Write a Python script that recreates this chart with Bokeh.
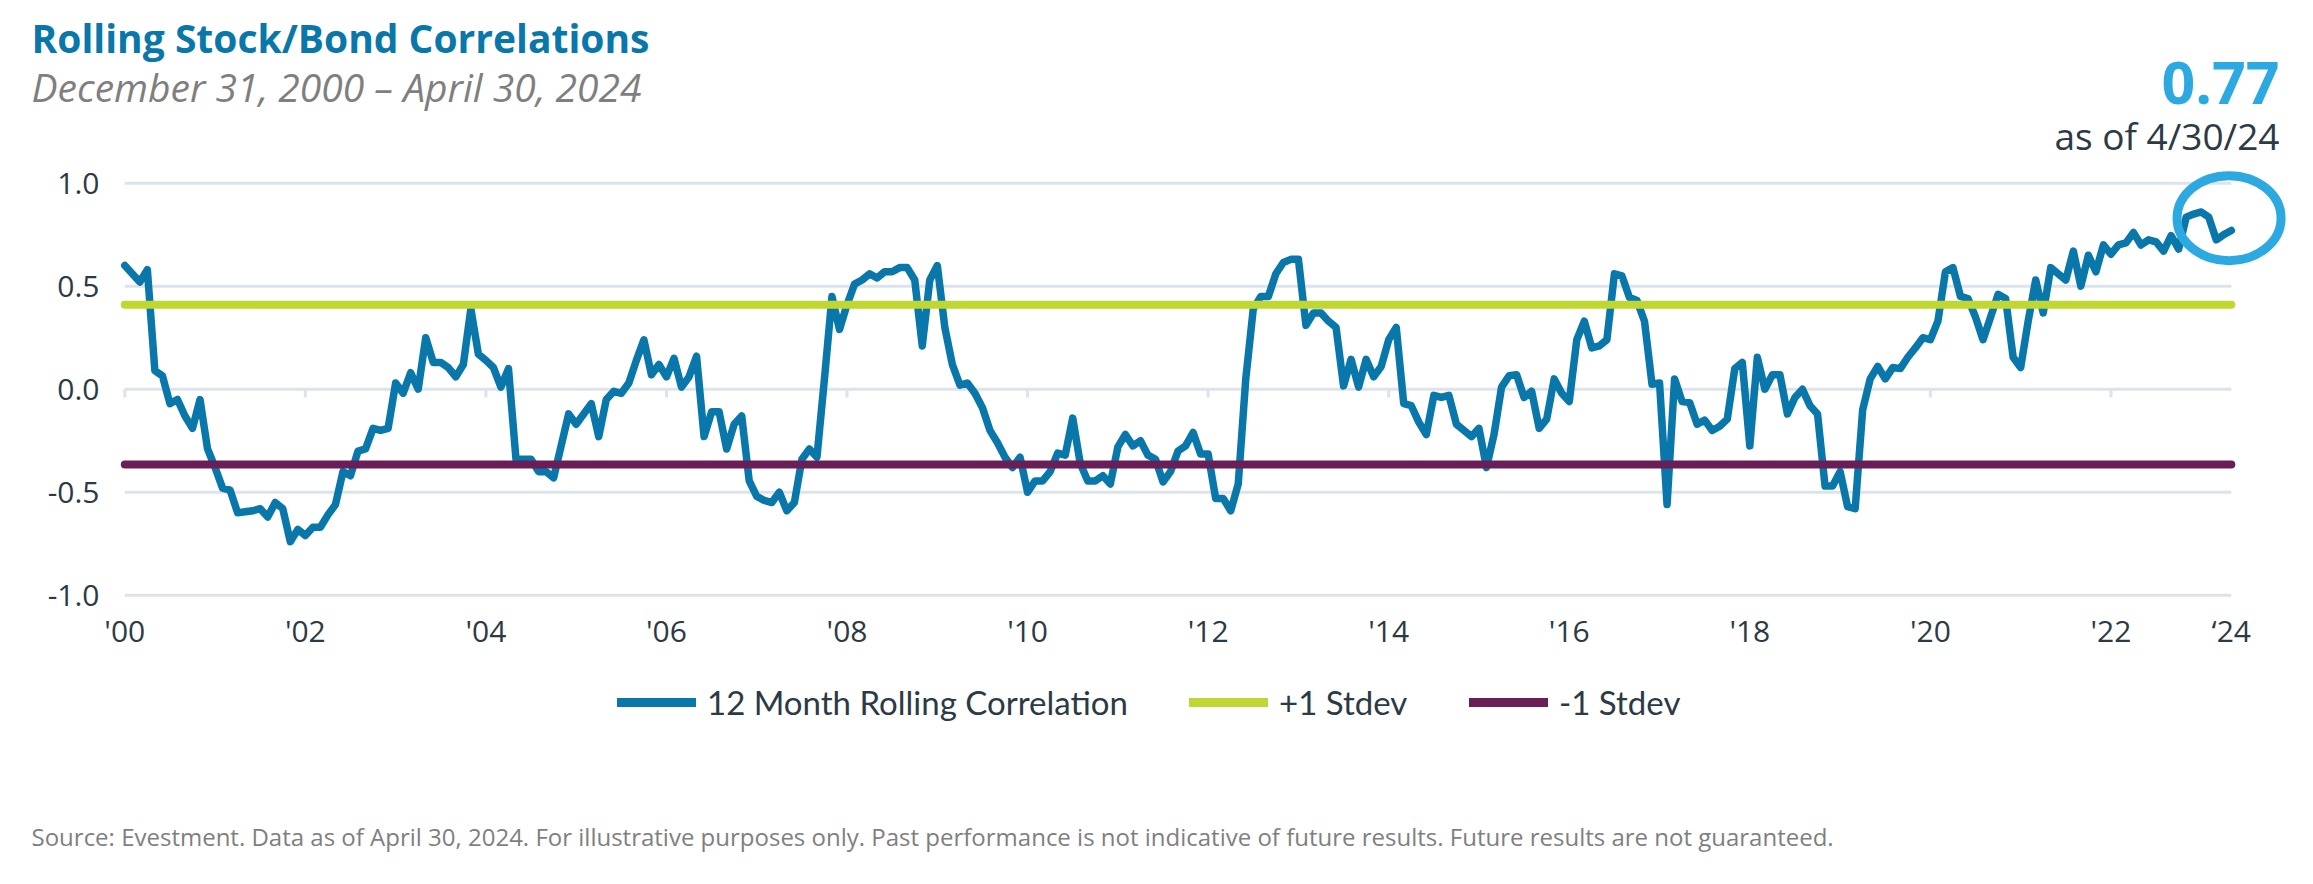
from bokeh.plotting import figure
from bokeh.layouts import column
from bokeh.models import Range1d, Legend, LegendItem, FixedTicker, NumeralTickFormatter
from bokeh.core.properties import value
from bokeh.embed import file_html
from bokeh.resources import INLINE

# ---------------- data ----------------
# month index: 0 = Dec 31, 2000 ... 280 = Apr 30, 2024
months = list(range(0, 281))
correlation = [
    0.60, 0.56, 0.52, 0.58, 0.09, 0.065, -0.07, -0.05, -0.13, -0.19,          # 0-9
    -0.05, -0.29, -0.38, -0.48, -0.49, -0.60, -0.595, -0.59, -0.58, -0.62,    # 10-19
    -0.55, -0.58, -0.74, -0.68, -0.71, -0.67, -0.67, -0.61, -0.56, -0.40,     # 20-29
    -0.42, -0.30, -0.29, -0.19, -0.20, -0.19, 0.03, -0.02, 0.08, 0.0,         # 30-39
    0.25, 0.13, 0.13, 0.105, 0.06, 0.12, 0.39, 0.17, 0.14, 0.105,             # 40-49
    0.01, 0.10, -0.34, -0.34, -0.34, -0.40, -0.40, -0.43, -0.275, -0.12,      # 50-59
    -0.17, -0.12, -0.07, -0.23, -0.05, -0.01, -0.02, 0.03, 0.14, 0.24,        # 60-69
    0.07, 0.12, 0.06, 0.15, 0.01, 0.06, 0.16, -0.23, -0.11, -0.11,            # 70-79
    -0.29, -0.17, -0.13, -0.445, -0.52, -0.54, -0.55, -0.50, -0.59, -0.55,    # 80-89
    -0.34, -0.29, -0.33, 0.05, 0.45, 0.29, 0.41, 0.51, 0.53, 0.56,            # 90-99
    0.54, 0.57, 0.57, 0.59, 0.59, 0.53, 0.21, 0.53, 0.60, 0.30,               # 100-109
    0.12, 0.02, 0.03, -0.02, -0.09, -0.20, -0.26, -0.33, -0.38, -0.33,        # 110-119
    -0.50, -0.445, -0.445, -0.40, -0.31, -0.32, -0.14, -0.36, -0.445, -0.445, # 120-129
    -0.42, -0.46, -0.28, -0.22, -0.275, -0.25, -0.32, -0.34, -0.45, -0.40,    # 130-139
    -0.30, -0.275, -0.21, -0.315, -0.315, -0.53, -0.53, -0.59, -0.46, 0.05,   # 140-149
    0.39, 0.45, 0.45, 0.56, 0.615, 0.63, 0.63, 0.31, 0.37, 0.37,              # 150-159
    0.33, 0.30, 0.016, 0.145, 0.01, 0.145, 0.06, 0.11, 0.24, 0.30,            # 160-169
    -0.07, -0.08, -0.16, -0.22, -0.03, -0.04, -0.03, -0.17, -0.20, -0.23,     # 170-179
    -0.19, -0.38, -0.22, 0.01, 0.065, 0.07, -0.04, -0.01, -0.19, -0.145,      # 180-189
    0.05, -0.02, -0.06, 0.24, 0.33, 0.20, 0.21, 0.24, 0.56, 0.55,             # 190-199
    0.445, 0.43, 0.33, 0.024, 0.03, -0.56, 0.05, -0.06, -0.065, -0.17,        # 200-209
    -0.15, -0.20, -0.18, -0.145, 0.10, 0.13, -0.275, 0.155, 0.0, 0.07,        # 210-219
    0.07, -0.12, -0.04, 0.0, -0.08, -0.12, -0.47, -0.47, -0.40, -0.57,        # 220-229
    -0.58, -0.10, 0.05, 0.11, 0.05, 0.105, 0.10, 0.155, 0.20, 0.25,           # 230-239
    0.24, 0.33, 0.57, 0.59, 0.45, 0.44, 0.35, 0.24, 0.35, 0.46,               # 240-249
    0.44, 0.155, 0.105, 0.33, 0.53, 0.37, 0.59, 0.56, 0.53, 0.67,             # 250-259
    0.50, 0.65, 0.57, 0.70, 0.655, 0.70, 0.71, 0.76, 0.70, 0.725,             # 260-269
    0.715, 0.67, 0.745, 0.68, 0.835, 0.85, 0.86, 0.835, 0.725, 0.75,          # 270-279
    0.77,                                                                      # 280
]
plus_stdev = 0.41
minus_stdev = -0.365
grid_values = [-1.0, -0.5, 0.0, 0.5, 1.0]
tick_months = [0, 24, 48, 72, 96, 120, 144, 168, 192, 216, 240, 264, 280]
tick_labels = ["'00", "'02", "'04", "'06", "'08", "'10", "'12", "'14", "'16", "'18",
               "'20", "'22", "\u201824"]
series_names = ["12 Month Rolling Correlation", "+1 Stdev", "-1 Stdev"]
title_text = "Rolling Stock/Bond Correlations"
subtitle_text = "December 31, 2000 \u2013 April 30, 2024"
latest_value = "0.77"
latest_date = "as of 4/30/24"
source_text = ("Source: Evestment. Data as of April 30, 2024. For illustrative purposes only. "
               "Past performance is not indicative of future results. Future results are not guaranteed.")

# ---------------- styles ----------------
BLUE = "#0A77AB"
LIGHT_BLUE = "#2DA9E1"
GREEN = "#BFD730"
PURPLE = "#6A1E57"
GRID = "#DDE3EA"
TEXT = "#2B3A45"
GREY = "#7F7F7F"
FONT = "Open Sans"
LEGEND_FONT = "Lato"
W = 2296
X0 = 2          # header/footer x coordinate at the canvas' left edge
NAN = float("nan")


def no_align(f):
    try:
        f.frame_align = False
    except Exception:
        pass


def blank(height, y0, y1):
    f = figure(width=W, height=height, output_backend="svg", toolbar_location=None,
               x_range=Range1d(X0, X0 + W), y_range=Range1d(y1, y0),
               x_axis_location=None, y_axis_location=None,
               min_border=0, min_border_left=0, min_border_right=0,
               min_border_top=0, min_border_bottom=0)
    f.outline_line_color = None
    f.xgrid.visible = False
    f.ygrid.visible = False
    f.background_fill_color = "white"
    f.border_fill_color = "white"
    no_align(f)
    return f


# ---------------- header (page y 8..168) ----------------
header = blank(160, 8, 168)
header.text(x=[33], y=[45], text=[title_text], text_font=value(FONT), text_font_size="39px",
            text_font_style="bold", text_color=BLUE, text_baseline="alphabetic", text_align="left")
header.text(x=[33], y=[93.5], text=[subtitle_text], text_font=value(FONT), text_font_size="39px",
            text_font_style="italic", text_color=GREY, text_baseline="alphabetic", text_align="left")
header.text(x=[2281], y=[90], text=[latest_value], text_font=value(FONT), text_font_size="59px",
            text_font_style="bold", text_color=LIGHT_BLUE, text_baseline="alphabetic", text_align="right")
header.text(x=[2281], y=[143], text=[latest_date], text_font=value(FONT), text_font_size="37px",
            text_color=TEXT, text_baseline="alphabetic", text_align="right")

# ---------------- main chart (page y 168..680, frame 168..611) ----------------
p = figure(width=W, height=512, output_backend="svg", toolbar_location=None,
           x_range=Range1d(-1.5, 288), y_range=Range1d(-1.0399, 1.1098),
           min_border_left=113, min_border_right=5, min_border_top=0, min_border_bottom=69)
p.outline_line_color = None
p.xgrid.visible = False
p.ygrid.visible = False
p.background_fill_color = "white"
p.border_fill_color = "white"
no_align(p)

p.yaxis.ticker = FixedTicker(ticks=grid_values)
p.yaxis.formatter = NumeralTickFormatter(format="0.0")
p.xaxis.ticker = FixedTicker(ticks=tick_months)
p.xaxis.major_label_overrides = {m: l for m, l in zip(tick_months, tick_labels)}
for ax in (p.xaxis[0], p.yaxis[0]):
    ax.axis_line_color = None
    ax.major_tick_line_color = None
    ax.minor_tick_line_color = None
    ax.major_tick_out = 0
    ax.major_tick_in = 0
    ax.minor_tick_out = 0
    ax.major_label_text_font = FONT
    ax.major_label_text_font_size = "30px"
    ax.major_label_text_color = TEXT
p.yaxis.major_label_standoff = 14
p.xaxis.major_label_standoff = 6

first_m, last_m = months[0], months[-1]
p.segment(x0=[first_m] * len(grid_values), x1=[last_m] * len(grid_values),
          y0=grid_values, y1=grid_values, line_color=GRID, line_width=3)
tm = tick_months[:-1]
p.segment(x0=tm, x1=tm, y0=[0.0] * len(tm), y1=[-0.04] * len(tm), line_color=GRID, line_width=3)

p.line(months, correlation, line_color=BLUE, line_width=7.5, line_join="round", line_cap="round")
p.line([first_m, last_m], [plus_stdev, plus_stdev], line_color=GREEN, line_width=8, line_cap="round")
p.line([first_m, last_m], [minus_stdev, minus_stdev], line_color=PURPLE, line_width=8, line_cap="round")

# highlight ring around the latest readings
p.ellipse(x=[last_m - 0.3], y=[correlation[-1] + 0.06], width=104, height=85,
          width_units="screen", height_units="screen",
          fill_color=None, line_color=LIGHT_BLUE, line_width=9)

# ---------------- footer: legend + source (page y 680..870) ----------------
footer = blank(190, 680, 870)
colors = [BLUE, GREEN, PURPLE]
legend_x = [617, 1189, 1469]
for name, col, lx in zip(series_names, colors, legend_x):
    r = footer.line(x=[NAN, NAN], y=[NAN, NAN], line_color=col, line_width=9, line_cap="round")
    lg = Legend(items=[LegendItem(label=name, renderers=[r])], location=(lx, 138),
                orientation="horizontal")
    lg.glyph_width = 79
    lg.glyph_height = 44
    lg.label_height = 44
    lg.label_standoff = 11
    lg.padding = 0
    lg.margin = 0
    lg.spacing = 0
    lg.border_line_color = None
    lg.background_fill_alpha = 0
    lg.label_text_font = LEGEND_FONT
    lg.label_text_font_size = "33px"
    lg.label_text_color = TEXT
    lg.label_text_baseline = "middle"
    footer.add_layout(lg)

footer.text(x=[33], y=[844], text=[source_text], text_font=value(FONT), text_font_size="24px",
            text_color=GREY, text_baseline="alphabetic", text_align="left")

layout = column(header, p, footer, spacing=0)
open("out.html", "w").write(file_html(layout, INLINE))
